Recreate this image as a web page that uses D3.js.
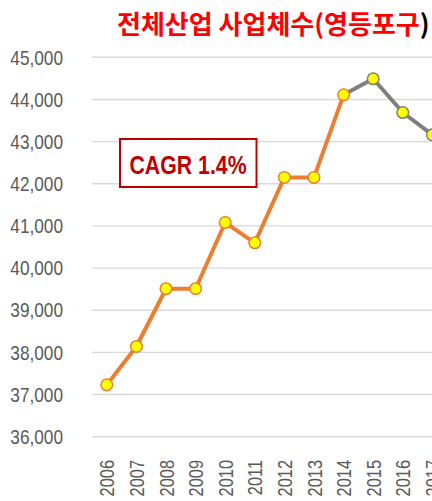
<!DOCTYPE html>
<html>
<head>
<meta charset="utf-8">
<script src="https://cdn.jsdelivr.net/npm/d3@7"></script>
<style>
  body { margin: 0; background: #fff; }
  svg { display: block; }
</style>
</head>
<body>
<div id="chart-area"></div>
<script>
// data
var years = ["2006", "2007", "2008", "2009", "2010", "2011", "2012", "2013", "2014", "2015", "2016", "2017"];
var counts = [37230, 38140, 39510, 39510, 41080, 40600, 42150, 42150, 44110, 44490, 43690, 43160];
var yTicks = [36000, 37000, 38000, 39000, 40000, 41000, 42000, 43000, 44000, 45000];
var splitYear = "2014"; // orange up to here, gray after
var cagrLabel = "CAGR 1.4%";

var width = 432, height = 501;
var font = "'Liberation Sans', Arial, sans-serif";
var squeeze = 0.82; // narrow look of the original font

var svg = d3.select("#chart-area")
    .append("svg")
    .attr("width", width)
    .attr("height", height);

// SCALES
var x = d3.scalePoint()
    .domain(years)
    .range([92, 92 + 12 * 29.6])
    .padding(0.5);

var y = d3.scaleLinear()
    .domain([36000, 45000])
    .range([436.7, 57.3]);

// gridlines
svg.append("g").selectAll("line").data(yTicks).enter()
    .append("line")
    .attr("x1", 92)
    .attr("x2", width)
    .attr("y1", (d) => y(d))
    .attr("y2", (d) => y(d))
    .attr("stroke", "#d9d9d9")
    .attr("stroke-width", 1.4);

// y axis labels
var leftAxis = d3.axisLeft(y).tickValues(yTicks).tickFormat(d3.format(",")).tickSize(0).tickPadding(0);
var yAxisGroup = svg.append("g")
    .attr("transform", "translate(63, 0)")
    .call(leftAxis);
yAxisGroup.select(".domain").remove();
yAxisGroup.selectAll("text")
    .attr("font-family", font)
    .attr("font-size", "21px")
    .attr("fill", "#595959")
    .attr("x", 0)
    .attr("transform", "scale(" + squeeze + ",1)");

// x axis labels (rotated)
var bottomAxis = d3.axisBottom(x).tickSize(0).tickPadding(0);
var xAxisGroup = svg.append("g")
    .attr("transform", "translate(0, 460)")
    .call(bottomAxis);
xAxisGroup.select(".domain").remove();
xAxisGroup.selectAll("text")
    .attr("font-family", font)
    .attr("font-size", "20px")
    .attr("fill", "#595959")
    .attr("text-anchor", "end")
    .attr("dy", "0.35em")
    .attr("y", 0)
    .attr("x", 0)
    .attr("transform", "rotate(-90) scale(" + squeeze + ",1)");

// series
var data = years.map((yr, i) => ({ year: yr, value: counts[i] }));
var cut = years.indexOf(splitYear);
var orangeData = data.slice(0, cut + 1);
var grayData = data.slice(cut);

var line = d3.line()
    .x((d) => x(d.year))
    .y((d) => y(d.value));

svg.append("path")
    .datum(grayData)
    .attr("d", line)
    .attr("fill", "none")
    .attr("stroke", "#7f7f7f")
    .attr("stroke-width", 4)
    .attr("stroke-linejoin", "round");

svg.append("path")
    .datum(orangeData)
    .attr("d", line)
    .attr("fill", "none")
    .attr("stroke", "#ed7d31")
    .attr("stroke-width", 4)
    .attr("stroke-linejoin", "round");

svg.append("g").selectAll("circle").data(data).enter()
    .append("circle")
    .attr("cx", (d) => x(d.year))
    .attr("cy", (d) => y(d.value))
    .attr("r", 5.8)
    .attr("fill", "#ffff00")
    .attr("stroke", (d, i) => i <= cut ? "#ed7d31" : "#7f7f7f")
    .attr("stroke-width", 1.5);

// CAGR box
svg.append("rect")
    .attr("x", 120)
    .attr("y", 139)
    .attr("width", 136.5)
    .attr("height", 48)
    .attr("fill", "#fff")
    .attr("stroke", "#c00000")
    .attr("stroke-width", 2);

svg.append("text")
    .attr("transform", "translate(188,174) scale(" + squeeze + ",1)")
    .attr("text-anchor", "middle")
    .attr("font-family", font)
    .attr("font-weight", "bold")
    .attr("font-size", "26px")
    .attr("fill", "#c00000")
    .text(cagrLabel);

// TITLE
var title = svg.append("text")
    .attr("x", 117)
    .attr("y", 34)
    .attr("font-family", "'Noto Sans CJK KR', sans-serif")
    .attr("font-weight", "bold")
    .attr("font-size", "26px");
title.append("tspan").attr("fill", "#ff0000").text("전체산업 사업체수(영등포구");
title.append("tspan").attr("fill", "#000000").text(")");
</script>
</body>
</html>
